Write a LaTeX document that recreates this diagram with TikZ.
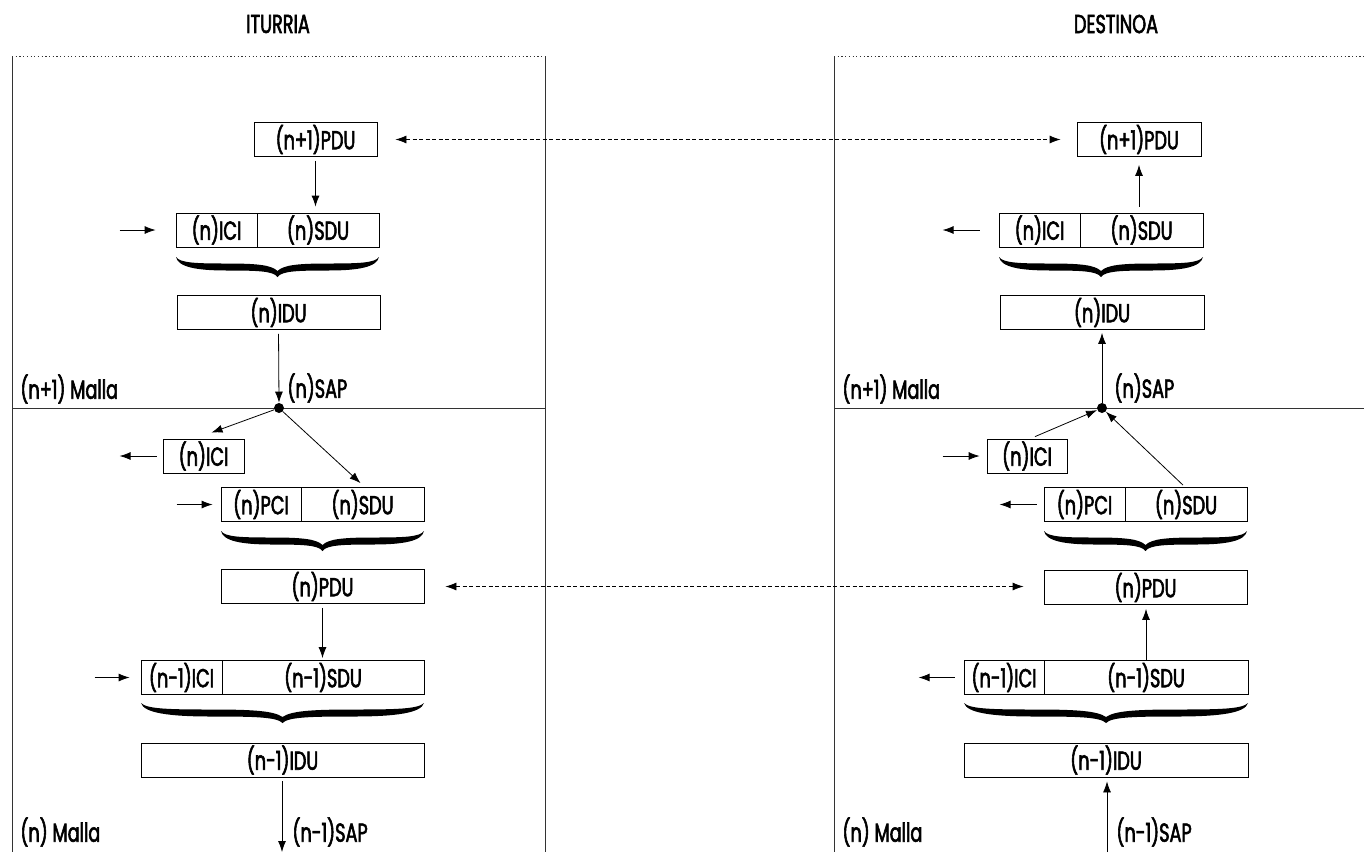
\documentclass[tikz,border=0pt]{standalone}
\usepackage{fontspec}
\setmainfont{Poppins}[FakeStretch=0.68, FakeBold=2.2]
\usetikzlibrary{arrows.meta}
\newcommand\mybrace[3]{%
  \begin{scope}[shift={(#1,#3)}, xscale={(#2-#1)/100}]
    \fill (0,0) .. controls (2,6) and (10,6.5) .. (25,6.5)
      .. controls (40,6.5) and (47,8) .. (50,14)
      .. controls (53,8) and (60,6.5) .. (75,6.5)
      .. controls (90,6.5) and (98,6) .. (100,0)
      .. controls (99,10) and (90,13.5) .. (75,13.5)
      .. controls (60,13.5) and (52,14) .. (50,20)
      .. controls (48,14) and (40,13.5) .. (25,13.5)
      .. controls (10,13.5) and (1,10) .. (0,0) -- cycle;
  \end{scope}}
\begin{document}
\begin{tikzpicture}[x=1pt,y=-1pt,
  line width=0.8pt,
  txt/.style={font=\fontsize{26}{28}\selectfont},
  box/.style={draw, txt, inner sep=0pt, minimum height=34pt},
  lbl/.style={txt, inner sep=0pt, anchor=west},
  ttl/.style={txt, inner sep=0pt},
  arr/.style={-{Latex[length=11pt,width=8pt]}},
  darr/.style={{Latex[length=11pt,width=8pt]}-{Latex[length=11pt,width=8pt]}, dash pattern=on 4pt off 2.5pt},
  sap/.style={circle, fill, inner sep=0pt, minimum size=10pt},
  frame/.style={line width=0.8pt, draw=black!80},
  dframe/.style={line width=0.8pt, draw=black!80, dash pattern=on 1.2pt off 2.5pt},
]
\useasboundingbox (0,0) rectangle (1364,852);

% titles
\node[ttl] (titL) at (278,24) {ITURRIA};
\node[ttl] (titR) at (1116,24) {DESTINOA};

% frames
\coordinate (LTL) at (12,56);
\coordinate (LTR) at (545,56);
\coordinate (LBL) at (12,852);
\coordinate (LBR) at (545,852);
\coordinate (LML) at (12,408);
\coordinate (LMR) at (545,408);
\draw[dframe] (LTL) -- (LTR);
\draw[frame] (LTL) -- (LBL);
\draw[frame] (LTR) -- (LBR);
\draw[frame] (LML) -- (LMR);

\coordinate (RTL) at (834,56);
\coordinate (RTR) at (1364,56);
\coordinate (RBL) at (834,852);
\coordinate (RML) at (834,408);
\coordinate (RMR) at (1364,408);
\draw[dframe] (RTL) -- (RTR);
\draw[frame] (RTL) -- (RBL);
\draw[frame] (RML) -- (RMR);

% ===== left side =====
\node[box, minimum width=123pt] (LPDU1) at (315.5,139.5) {(n+1)PDU};
\node[box, minimum width=81pt]  (LICI1) at (216.5,230) {(n)ICI};
\node[box, minimum width=122pt] (LSDU1) at (318,230) {(n)SDU};
\node[box, minimum width=203pt] (LIDU1) at (278.5,312.5) {(n)IDU};
\node[sap] (LSAP) at (279,408) {};
\node[lbl] (LSAPt) at (287,388) {(n)SAP};
\node[lbl] (LM1) at (20,389) {(n+1) Malla};
\node[box, minimum width=81pt]  (LICI2) at (203.5,456) {(n)ICI};
\node[box, minimum width=80pt]  (LPCI)  at (261,504.5) {(n)PCI};
\node[box, minimum width=123pt] (LSDU2) at (362.5,504.5) {(n)SDU};
\node[box, minimum width=203pt] (LPDU)  at (322.5,586.5) {(n)PDU};
\node[box, minimum width=81pt]  (LICI3) at (181.5,677.5) {(n-1)ICI};
\node[box, minimum width=202pt] (LSDU3) at (323,677.5) {(n-1)SDU};
\node[box, minimum width=283pt] (LIDU3) at (282.5,760) {(n-1)IDU};
\node[lbl] (LSAP3t) at (292,832) {(n-1)SAP};
\node[lbl] (LM2) at (20,832) {(n) Malla};
\coordinate (LBot) at (282,852);

\draw[arr, shorten <=4pt, shorten >=6pt] (LPDU1.south) -- (LPDU1.south |- LSDU1.north);
\draw[arr] ([xshift=-56pt]LICI1.west) -- ([xshift=-20pt]LICI1.west);
\mybrace{176}{379}{257}
\draw[arr, shorten <=4pt] (LIDU1.south) -- (LSAP.north);
\draw[arr] (LSAP) -- ([shift={(8,-6)}]LICI2.north);
\draw[arr] (LSAP) -- ([shift={(-2,-4)}]LSDU2.north);
\draw[arr] ([xshift=-6pt]LICI2.west) -- ([xshift=-43pt]LICI2.west);
\draw[arr] ([xshift=-44pt]LPCI.west) -- ([xshift=-8pt]LPCI.west);
\mybrace{221}{424}{531}
\draw[arr, shorten <=4pt, shorten >=2pt] (LPDU.south) -- (LPDU.south |- LSDU3.north);
\draw[arr] ([xshift=-46pt]LICI3.west) -- ([xshift=-11pt]LICI3.west);
\mybrace{141}{424}{703}
\draw[arr, shorten <=4pt] (LIDU3.south -| LBot) -- (LBot);

% ===== right side =====
\node[box, minimum width=124pt] (RPDU1) at (1139,139.5) {(n+1)PDU};
\node[box, minimum width=81pt]  (RICI1) at (1039.5,230) {(n)ICI};
\node[box, minimum width=123pt] (RSDU1) at (1141.5,230) {(n)SDU};
\node[box, minimum width=204pt] (RIDU1) at (1102,312.5) {(n)IDU};
\node[sap] (RSAP) at (1102,408) {};
\node[lbl] (RSAPt) at (1114,388) {(n)SAP};
\node[lbl] (RM1) at (842,389) {(n+1) Malla};
\node[box, minimum width=80pt]  (RICI2) at (1027,456) {(n)ICI};
\node[box, minimum width=81pt]  (RPCI)  at (1084.5,504.5) {(n)PCI};
\node[box, minimum width=122pt] (RSDU2) at (1186,504.5) {(n)SDU};
\node[box, minimum width=203pt] (RPDU)  at (1145.5,587.5) {(n)PDU};
\node[box, minimum width=80pt]  (RICI3) at (1004,677.5) {(n-1)ICI};
\node[box, minimum width=204pt] (RSDU3) at (1146,677.5) {(n-1)SDU};
\node[box, minimum width=284pt] (RIDU3) at (1106,760) {(n-1)IDU};
\node[lbl] (RSAP3t) at (1116,832) {(n-1)SAP};
\node[lbl] (RM2) at (842,832) {(n) Malla};
\coordinate (RBot) at (1107,852);

\draw[arr, shorten <=6pt, shorten >=8pt] (RPDU1.south |- RSDU1.north) -- (RPDU1.south);
\draw[arr] ([xshift=-19pt]RICI1.west) -- ([xshift=-56pt]RICI1.west);
\mybrace{999}{1203}{257}
\draw[arr, shorten >=3pt] (RSAP.north) -- (RSAP.north |- RIDU1.south);
\draw[arr] ([shift={(8,-2)}]RICI2.north) -- (RSAP);
\draw[arr] ([shift={(-3,-2)}]RSDU2.north) -- (RSAP);
\draw[arr] ([xshift=-44pt]RICI2.west) -- ([xshift=-7pt]RICI2.west);
\draw[arr] ([xshift=-7pt]RPCI.west) -- ([xshift=-44pt]RPCI.west);
\mybrace{1044}{1247}{531}
\draw[arr, shorten >=4pt] (RSDU3.north) -- (RSDU3.north |- RPDU.south);
\draw[arr] ([xshift=-9pt]RICI3.west) -- ([xshift=-45pt]RICI3.west);
\mybrace{964}{1248}{703}
\draw[arr, shorten >=4pt] (RBot) -- (RIDU3.south -| RBot);

% ===== peer-to-peer dashed arrows =====
\draw[darr, shorten <=18pt, shorten >=16pt] (LPDU1.east) -- (RPDU1.west);
\draw[darr, shorten <=21pt, shorten >=20pt] (LPDU.east) -- (LPDU.east -| RPDU.west);
\end{tikzpicture}
\end{document}
